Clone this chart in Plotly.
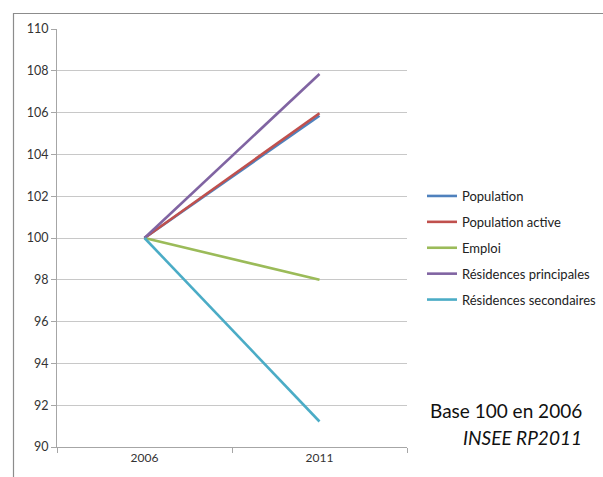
import plotly.graph_objects as go

# Indices base 100 en 2006
years = ["2006", "2011"]
population = [100, 105.85]
population_active = [100, 105.97]
emploi = [100, 98.0]
residences_principales = [100, 107.85]
residences_secondaires = [100, 91.22]

series_names = ["Population", "Population active", "Emploi",
                "Résidences principales", "Résidences secondaires"]
series_values = [population, population_active, emploi,
                 residences_principales, residences_secondaires]
series_colors = ["#4F81BD", "#C0504D", "#9BBB59", "#8064A2", "#4BACC6"]

FONT = "Lato, Open Sans, sans-serif"

fig = go.Figure()
for name, vals, col in zip(series_names, series_values, series_colors):
    fig.add_trace(go.Scatter(
        x=years, y=vals, mode="lines", name=name, legendgroup=name,
        line=dict(color=col, width=2.6),
    ))

W, H = 603, 477
L, R, T, B = 57, 196, 29, 30
pw, ph = W - L - R, H - T - B

def px_x(p):
    return (p - L) / pw

def px_y(p):
    return 1 - (p - T) / ph

fig.update_layout(
    width=W, height=H,
    margin=dict(l=L, r=R, t=T, b=B, autoexpand=False),
    paper_bgcolor="white", plot_bgcolor="white",
    font=dict(family=FONT, color="#222222"),
    showlegend=True,
    legend=dict(
        x=px_x(422), y=px_y(181), xanchor="left", yanchor="top",
        font=dict(size=13, family=FONT, color="#222222"),
        tracegroupgap=6, bgcolor="rgba(0,0,0,0)",
    ),
    xaxis=dict(
        type="category", showgrid=False, showline=True, linecolor="#A6A6A6",
        linewidth=1, ticks="outside", tickson="boundaries", ticklen=5,
        tickcolor="#A6A6A6", tickfont=dict(size=12, family=FONT, color="#333333"),
        range=[-0.5, 1.5], zeroline=False,
    ),
    yaxis=dict(
        range=[90, 110], dtick=2, tick0=90, showgrid=True, gridcolor="#C8C8C8",
        gridwidth=1, showline=True, linecolor="#A6A6A6", linewidth=1,
        ticks="outside", ticklen=5, tickcolor="#A6A6A6",
        tickfont=dict(size=12.5, family=FONT, color="#333333"), zeroline=False,
    ),
    shapes=[dict(
        type="path", xref="paper", yref="paper",
        path=f"M {px_x(13.5)},{px_y(490)} L {px_x(13.5)},{px_y(13.5)} L {px_x(620)},{px_y(13.5)}",
        line=dict(color="#8C8C8C", width=1.2),
    )],
    annotations=[
        dict(text="Base 100 en 2006", xref="paper", yref="paper",
             x=px_x(584), y=px_y(410), xanchor="right", yanchor="middle",
             showarrow=False, font=dict(size=19, family=FONT, color="#111111")),
        dict(text="<i>INSEE RP2011</i>", xref="paper", yref="paper",
             x=px_x(584), y=px_y(437), xanchor="right", yanchor="middle",
             showarrow=False, font=dict(size=19, family=FONT, color="#111111")),
    ],
)

fig.write_html("out.html")
